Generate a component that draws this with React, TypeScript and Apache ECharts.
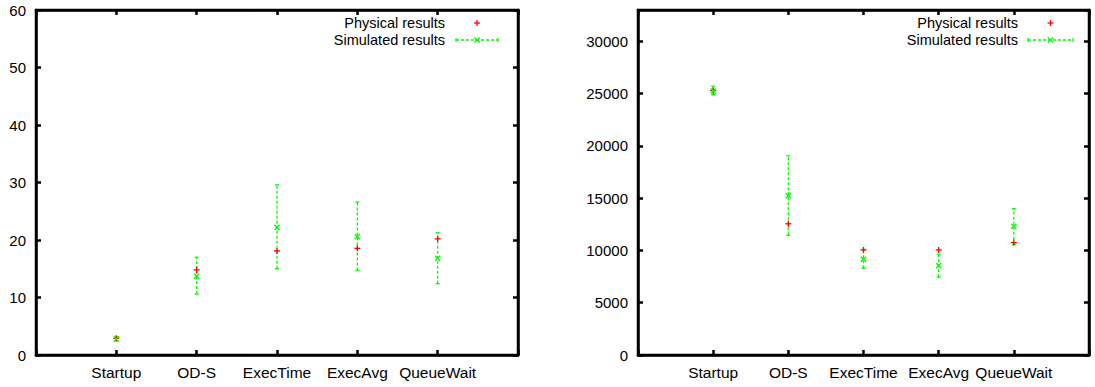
import React, { useEffect, useRef } from "react";
import * as echarts from "echarts";

const categories = ["Startup", "OD-S", "ExecTime", "ExecAvg", "QueueWait"];

const leftPhysical = [2.9, 14.8, 18.1, 18.55, 20.2];
const leftSimulated = [2.75, 13.7, 22.2, 20.6, 16.8];
const leftSimLow = [2.45, 10.6, 15.0, 14.7, 12.4];
const leftSimHigh = [3.15, 17.0, 29.6, 26.6, 21.3];
const leftTicks = [0, 10, 20, 30, 40, 50, 60];

const rightPhysical = [25300, 12550, 10050, 10050, 10750];
const rightSimulated = [25250, 15250, 9150, 8550, 12300];
const rightSimLow = [24900, 11450, 8300, 7450, 10550];
const rightSimHigh = [25700, 19050, 10100, 9650, 14000];
const rightTicks = [0, 5000, 10000, 15000, 20000, 25000, 30000];

const legendLabels = ["Physical results", "Simulated results"];

const RED = "#ff0000";
const GREEN = "#00ff00";
const FONT = "Liberation Sans, Arial, sans-serif";

function errRender(params: any, api: any) {
  const x = api.value(0);
  const lo = api.coord([x, api.value(1)]);
  const hi = api.coord([x, api.value(2)]);
  const c = 2;
  return {
    type: "group",
    children: [
      { type: "line", shape: { x1: lo[0], y1: lo[1], x2: hi[0], y2: hi[1] }, style: { stroke: GREEN, lineWidth: 1.3, lineDash: [3, 2] } },
      { type: "line", shape: { x1: hi[0] - c, y1: hi[1], x2: hi[0] + c, y2: hi[1] }, style: { stroke: GREEN, lineWidth: 1.3 } },
      { type: "line", shape: { x1: lo[0] - c, y1: lo[1], x2: lo[0] + c, y2: lo[1] }, style: { stroke: GREEN, lineWidth: 1.3 } },
    ],
  };
}

function plusRender(params: any, api: any) {
  const p = api.coord([api.value(0), api.value(1)]);
  const s = 3;
  return {
    type: "group",
    children: [
      { type: "line", shape: { x1: p[0] - s, y1: p[1], x2: p[0] + s, y2: p[1] }, style: { stroke: RED, lineWidth: 1.3 } },
      { type: "line", shape: { x1: p[0], y1: p[1] - s, x2: p[0], y2: p[1] + s }, style: { stroke: RED, lineWidth: 1.3 } },
    ],
  };
}

function crossRender(params: any, api: any) {
  const p = api.coord([api.value(0), api.value(1)]);
  const s = 2.6;
  return {
    type: "group",
    children: [
      { type: "line", shape: { x1: p[0] - s, y1: p[1] - s, x2: p[0] + s, y2: p[1] + s }, style: { stroke: GREEN, lineWidth: 1.4 } },
      { type: "line", shape: { x1: p[0] - s, y1: p[1] + s, x2: p[0] + s, y2: p[1] - s }, style: { stroke: GREEN, lineWidth: 1.4 } },
    ],
  };
}

function legendGraphic(textRight: number, sampleL: number, sampleR: number) {
  const cx = (sampleL + sampleR) / 2;
  const y1 = 23;
  const y2 = 40;
  return [
    { type: "text", x: textRight, y: y1, style: { text: legendLabels[0], fill: "#000", font: `14.5px ${FONT}`, textAlign: "right", textVerticalAlign: "middle" } },
    { type: "text", x: textRight, y: y2, style: { text: legendLabels[1], fill: "#000", font: `14.5px ${FONT}`, textAlign: "right", textVerticalAlign: "middle" } },
    { type: "line", shape: { x1: cx - 3, y1: y1, x2: cx + 3, y2: y1 }, style: { stroke: RED, lineWidth: 1.3 } },
    { type: "line", shape: { x1: cx, y1: y1 - 3, x2: cx, y2: y1 + 3 }, style: { stroke: RED, lineWidth: 1.3 } },
    { type: "line", shape: { x1: sampleL, y1: y2, x2: sampleR, y2: y2 }, style: { stroke: GREEN, lineWidth: 1.3, lineDash: [3, 2] } },
    { type: "line", shape: { x1: sampleL, y1: y2 - 2, x2: sampleL, y2: y2 + 2 }, style: { stroke: GREEN, lineWidth: 1.3 } },
    { type: "line", shape: { x1: sampleR, y1: y2 - 2, x2: sampleR, y2: y2 + 2 }, style: { stroke: GREEN, lineWidth: 1.3 } },
    { type: "line", shape: { x1: cx - 2.6, y1: y2 - 2.6, x2: cx + 2.6, y2: y2 + 2.6 }, style: { stroke: GREEN, lineWidth: 1.4 } },
    { type: "line", shape: { x1: cx - 2.6, y1: y2 + 2.6, x2: cx + 2.6, y2: y2 - 2.6 }, style: { stroke: GREEN, lineWidth: 1.4 } },
  ];
}

export default function App() {
  const ref = useRef<HTMLDivElement>(null);
  useEffect(() => {
    if (!ref.current) return;
    const chart = echarts.init(ref.current, null, { renderer: "svg" });

    const axisLine = () => ({ show: true, onZero: false, lineStyle: { color: "#000000", width: 2.5, opacity: 1 } });
    const axisTick = () => ({ show: true, inside: true, length: 5, lineStyle: { color: "#000000", width: 2.5, opacity: 1 } });
    const labelStyle = (size: number) => ({ color: "#000000", fontSize: size, fontFamily: FONT });

    const makeX = (grid: number, position: string, showLabel: boolean) => ({
      type: "value",
      gridIndex: grid,
      position,
      min: 0,
      max: 6,
      interval: 1,
      axisLine: axisLine(),
      axisTick: axisTick(),
      splitLine: { show: false },
      axisLabel: {
        show: showLabel,
        ...labelStyle(15.5),
        margin: 9,
        formatter: (v: number) => (v >= 1 && v <= 5 ? categories[v - 1] : ""),
      },
    });

    const makeY = (grid: number, position: string, showLabel: boolean, ticks: number[], max: number, interval: number) => ({
      type: "value",
      gridIndex: grid,
      position,
      min: 0,
      max,
      interval,
      axisLine: axisLine(),
      axisTick: axisTick(),
      splitLine: { show: false },
      axisLabel: {
        show: showLabel,
        ...labelStyle(15),
        margin: 10,
        showMaxLabel: max === ticks[ticks.length - 1],
        formatter: (v: number) => (ticks.indexOf(v) >= 0 ? String(v) : ""),
      },
    });

    const mkErr = (lo: number[], hi: number[]) => lo.map((l, i) => [i + 1, l, hi[i]]);
    const mkPts = (vals: number[]) => vals.map((v, i) => [i + 1, v]);

    const seriesFor = (axisIdx: number, phys: number[], sim: number[], lo: number[], hi: number[]) => [
      { type: "custom", xAxisIndex: axisIdx, yAxisIndex: axisIdx, renderItem: errRender, data: mkErr(lo, hi), encode: { x: 0, y: [1, 2] }, silent: true },
      { type: "custom", xAxisIndex: axisIdx, yAxisIndex: axisIdx, renderItem: plusRender, data: mkPts(phys), encode: { x: 0, y: 1 }, silent: true },
      { type: "custom", xAxisIndex: axisIdx, yAxisIndex: axisIdx, renderItem: crossRender, data: mkPts(sim), encode: { x: 0, y: 1 }, silent: true },
    ];

    chart.setOption({
      animation: false,
      backgroundColor: "#fff",
      grid: [
        { left: 36, top: 10, width: 482, height: 345, show: true, borderColor: "#000000", borderWidth: 2.5, backgroundColor: "transparent" },
        { left: 638, top: 10, width: 451, height: 345, show: true, borderColor: "#000000", borderWidth: 2.5, backgroundColor: "transparent" },
      ],
      xAxis: [
        makeX(0, "bottom", true),
        makeX(1, "bottom", true),
        makeX(0, "top", false),
        makeX(1, "top", false),
      ],
      yAxis: [
        makeY(0, "left", true, leftTicks, 60, 10),
        makeY(1, "left", true, rightTicks, 33000, 5000),
        makeY(0, "right", false, leftTicks, 60, 10),
        makeY(1, "right", false, rightTicks, 33000, 5000),
      ],
      series: [
        ...seriesFor(0, leftPhysical, leftSimulated, leftSimLow, leftSimHigh),
        ...seriesFor(1, rightPhysical, rightSimulated, rightSimLow, rightSimHigh),
      ],
      graphic: [...legendGraphic(445, 456, 498), ...legendGraphic(1018, 1028, 1073)],
    });

    return () => chart.dispose();
  }, []);

  return (
    <div
      ref={ref}
      style={{ position: "fixed", left: 0, top: 0, width: 1095, height: 387, background: "#fff" }}
    />
  );
}
